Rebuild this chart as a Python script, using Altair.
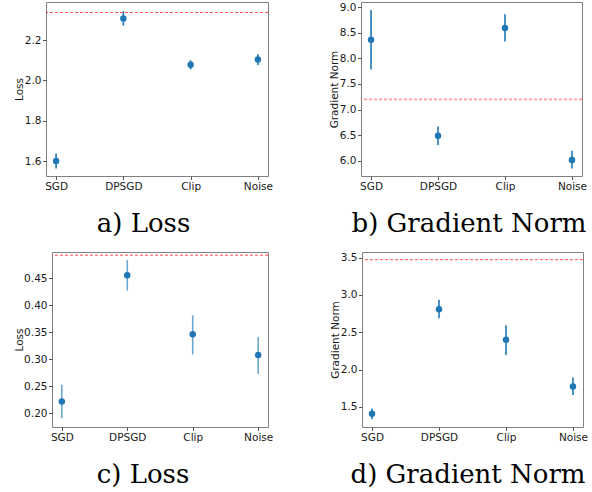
import altair as alt
import pandas as pd

methods = ["SGD", "DPSGD", "Clip", "Noise"]

# a) Loss
loss_a = [1.600, 2.307, 2.078, 2.104]
loss_a_lo = [1.563, 2.272, 2.055, 2.077]
loss_a_hi = [1.637, 2.343, 2.100, 2.130]
ref_a = 2.337

# b) Gradient Norm
grad_b = [8.36, 6.49, 8.59, 6.02]
grad_b_lo = [7.78, 6.31, 8.33, 5.85]
grad_b_hi = [8.94, 6.67, 8.86, 6.20]
ref_b = 7.2

# c) Loss
loss_c = [0.222, 0.455, 0.346, 0.308]
loss_c_lo = [0.191, 0.427, 0.309, 0.273]
loss_c_hi = [0.253, 0.483, 0.381, 0.341]
ref_c = 0.492

# d) Gradient Norm
grad_d = [1.41, 2.81, 2.40, 1.774]
grad_d_lo = [1.334, 2.688, 2.197, 1.659]
grad_d_hi = [1.478, 2.935, 2.596, 1.895]
ref_d = 3.473

BLUE = "#1f77b4"


def panel(vals, lo, hi, ref, dom, ticks, fmt, ytitle, caption, w, h, dx,
          ext, err_opacity=1.0, ref_width=1.0, ref_opacity=0.8):
    df = pd.DataFrame({"method": methods, "v": vals, "lo": lo, "hi": hi})
    x = alt.X("method:N", sort=methods,
              scale=alt.Scale(type="point", padding=0.15),
              axis=alt.Axis(title=None, labelAngle=0))
    yscale = alt.Scale(domain=dom, nice=False, zero=False)
    yaxis = alt.Axis(title=ytitle, values=ticks, format=fmt, labelFlush=False,
                     minExtent=ext, maxExtent=ext)
    base = alt.Chart(df)
    err = base.mark_rule(color=BLUE, strokeWidth=1.6, opacity=err_opacity).encode(
        x=x, y=alt.Y("lo:Q", scale=yscale, axis=yaxis), y2="hi:Q")
    pts = base.mark_circle(color=BLUE, size=42, opacity=1).encode(
        x=x, y=alt.Y("v:Q", scale=yscale, axis=yaxis))
    refline = alt.Chart(pd.DataFrame({"r": [ref]})).mark_rule(
        color="#ff2020", strokeDash=[3, 2], strokeWidth=ref_width,
        opacity=ref_opacity).encode(
        y=alt.Y("r:Q", scale=yscale, axis=yaxis))
    return alt.layer(err, pts, refline).properties(
        width=w, height=h,
        title=alt.TitleParams(caption, orient="bottom", anchor="middle",
                              frame="group", dx=dx, offset=19,
                              font="DejaVu Serif", fontSize=26,
                              fontWeight="normal", color="black"))


def spacer():
    return alt.Chart(pd.DataFrame({"s": [0]})).mark_point(
        opacity=0, size=0.01, strokeWidth=0, filled=True).encode(
        x=alt.value(0.5), y=alt.value(0.5)
    ).properties(width=1, height=1,
                 view=alt.ViewBackground(strokeOpacity=0, fillOpacity=0))


pa = panel(loss_a, loss_a_lo, loss_a_hi, ref_a, [1.526, 2.389],
           [1.6, 1.8, 2.0, 2.2], ".1f", "Loss", "a) Loss", 222, 174, -13.5, 20)
pb = panel(grad_b, grad_b_lo, grad_b_hi, ref_b, [5.706, 9.098],
           [6.0, 6.5, 7.0, 7.5, 8.0, 8.5, 9.0], ".1f", "Gradient Norm",
           "b) Gradient Norm", 221, 174, -2.5, 20, ref_width=1.8,
           ref_opacity=0.45)
pc = panel(loss_c, loss_c_lo, loss_c_hi, ref_c, [0.175, 0.498],
           [0.20, 0.25, 0.30, 0.35, 0.40, 0.45], ".2f", "Loss", "c) Loss",
           216, 175, -17, 26, err_opacity=0.65, ref_width=1.5,
           ref_opacity=0.55)
pd_ = panel(grad_d, grad_d_lo, grad_d_hi, ref_d, [1.231, 3.576],
            [1.5, 2.0, 2.5, 3.0, 3.5], ".1f", "Gradient Norm",
            "d) Gradient Norm", 221, 175, -4.5, 20)

row1 = alt.hconcat(spacer(), alt.hconcat(pa, pb, spacing=55), spacing=0)
row2 = alt.hconcat(spacer(), alt.hconcat(pc, pd_, spacing=55), spacing=0)

chart = alt.vconcat(row1, row2, spacing=14).properties(
    padding={"left": 12, "top": 1, "right": 0, "bottom": 0},
    background="white",
).configure_view(
    stroke="#808080", strokeWidth=1
).configure_axis(
    grid=False, domain=False,
    labelFont="DejaVu Sans", labelFontSize=10.5, labelColor="#1a1a1a",
    titleFont="DejaVu Sans", titleFontSize=10.5, titleColor="#1a1a1a",
    titleFontWeight="normal",
    tickColor="#555555", tickSize=3.5, labelPadding=1.5,
    titlePadding=2,
)

chart.save("out.html", embed_options={"renderer": "svg", "actions": False})
